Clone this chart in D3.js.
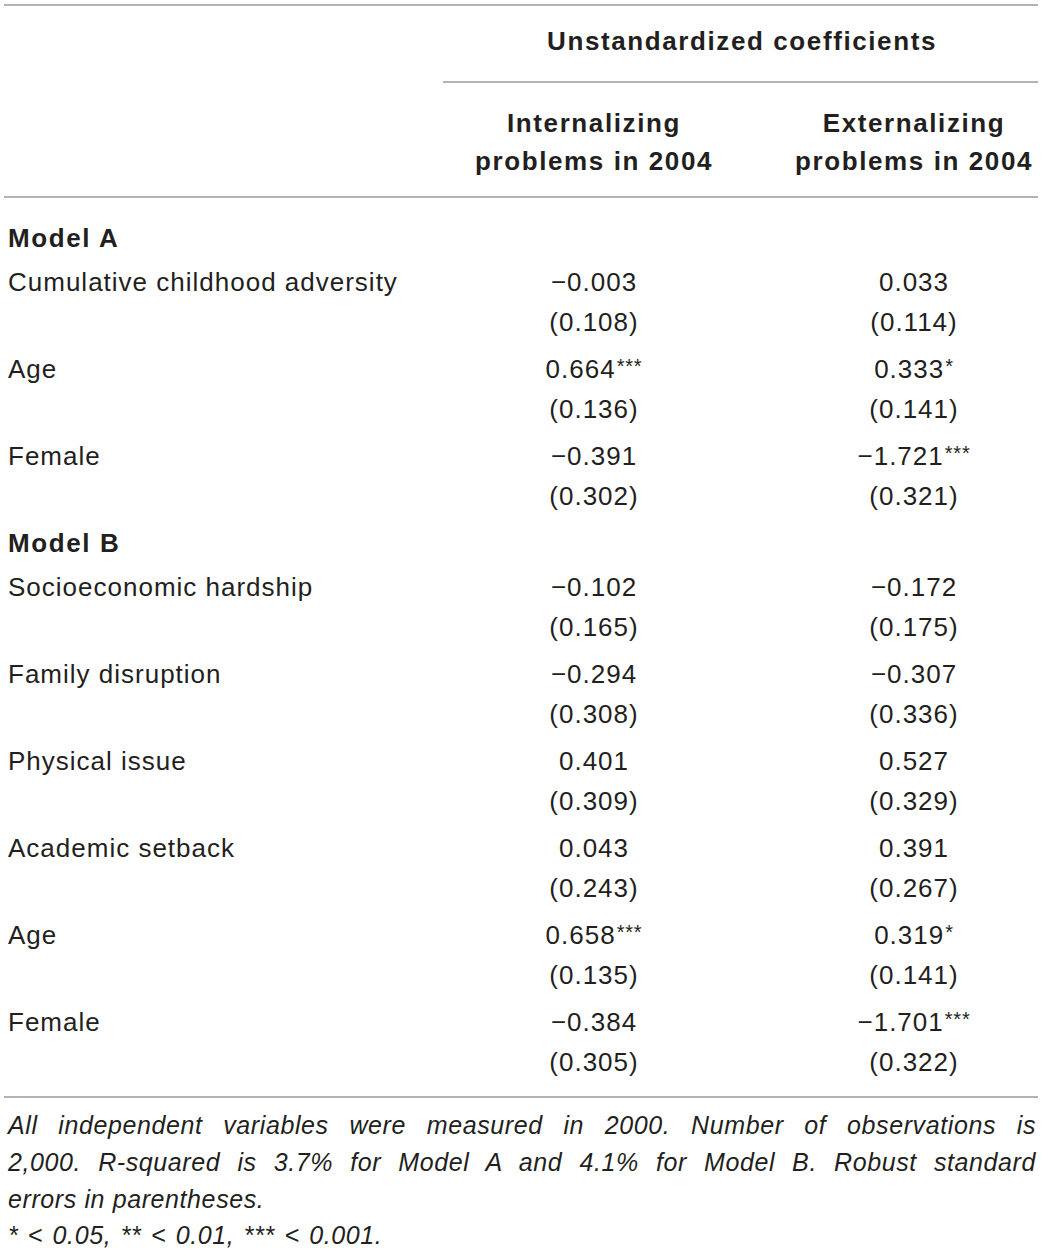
<!DOCTYPE html>
<html>
<head>
<meta charset="utf-8">
<script src="https://cdn.jsdelivr.net/npm/d3@7"></script>
<style>
  body { margin: 0; background: #fff; }
  svg { display: block; }
</style>
</head>
<body>
<div id="chart"></div>
<script>
// table content
const groups= ['Model A', 'Model B'];
const rowLabels= [
  'Cumulative childhood adversity', 'Age', 'Female',
  'Socioeconomic hardship', 'Family disruption', 'Physical issue', 'Academic setback', 'Age', 'Female'
];
const rowGroup= [0, 0, 0, 1, 1, 1, 1, 1, 1];
const intCoef= ['\u22120.003', '0.664', '\u22120.391', '\u22120.102', '\u22120.294', '0.401', '0.043', '0.658', '\u22120.384'];
const intSig= ['', '***', '', '', '', '', '', '***', ''];
const intSE= ['0.108', '0.136', '0.302', '0.165', '0.308', '0.309', '0.243', '0.135', '0.305'];
const extCoef= ['0.033', '0.333', '\u22121.721', '\u22120.172', '\u22120.307', '0.527', '0.391', '0.319', '\u22121.701'];
const extSig= ['', '*', '***', '', '', '', '', '*', '***'];
const extSE= ['0.114', '0.141', '0.321', '0.175', '0.336', '0.329', '0.267', '0.141', '0.322'];
const spanHeader= 'Unstandardized coefficients';
const colHeaders= [['Internalizing', 'problems in 2004'], ['Externalizing', 'problems in 2004']];
const noteLines= [
  'All independent variables were measured in 2000. Number of observations is',
  '2,000. R-squared is 3.7% for Model A and 4.1% for Model B. Robust standard',
  'errors in parentheses.',
  '* < 0.05, ** < 0.01, *** < 0.001.'
];

const W= 1043, H= 1256;
const FS= 26;
const LS= 1, LS_BOLD= 1.6;
const INK= '#231f20', RULE= '#9a9a9a';
const FONT= '"Liberation Sans", Arial, Helvetica, sans-serif';

const svg= d3.select('#chart').append('svg')
  .attr('width', W).attr('height', H)
  .attr('font-family', FONT).attr('fill', INK);

// layout: each slot is half a variable row
const slots= [];
let s= 0;
groups.forEach((g, gi) => {
  slots.push({ type: 'group', text: g, slot: s });
  s+= 1;
  rowLabels.forEach((lab, i) => {
    if (rowGroup[i]!==gi) return;
    slots.push({ type: 'row', i, slot: s });
    s+= 2;
  });
});
const lastSlot= d3.max(slots, d => d.slot);
const y= d3.scaleLinear().domain([0, lastSlot]).range([238, 1022]);
const colX= d3.scaleOrdinal().domain(['int', 'ext']).range([594, 914]);
const SE_GAP= 40;

// rules
const rules= [
  { x1: 4, x2: 1038, y: 5 },
  { x1: 443, x2: 1038, y: 82 },
  { x1: 4, x2: 1038, y: 197 },
  { x1: 4, x2: 1038, y: 1097 }
];
svg.selectAll('line.rule').data(rules).join('line')
  .attr('class', 'rule')
  .attr('x1', d => d.x1).attr('x2', d => d.x2)
  .attr('y1', d => d.y).attr('y2', d => d.y)
  .attr('stroke', RULE).attr('stroke-width', 1.6);

function bold(sel) {
  return sel.attr('font-size', FS).attr('font-weight', 'bold').attr('letter-spacing', LS_BOLD);
}
function plain(sel) {
  return sel.attr('font-size', FS).attr('letter-spacing', LS);
}

// header
svg.append('text')
  .attr('x', 742).attr('y', 41).attr('dy', '0.35em')
  .attr('text-anchor', 'middle')
  .call(bold)
  .text(spanHeader);

['int', 'ext'].forEach((k, ci) => {
  colHeaders[ci].forEach((t, li) => {
    svg.append('text')
      .attr('x', colX(k)).attr('y', 123+li*38).attr('dy', '0.35em')
      .attr('text-anchor', 'middle')
      .call(bold)
      .text(t);
  });
});

// body
const gBody= svg.append('g');
slots.forEach(d => {
  if (d.type==='group') {
    gBody.append('text')
      .attr('x', 8).attr('y', y(d.slot)).attr('dy', '0.35em')
      .call(bold)
      .text(d.text);
    return;
  }
  const i= d.i;
  gBody.append('text')
    .attr('x', 8).attr('y', y(d.slot)).attr('dy', '0.35em')
    .call(plain)
    .text(rowLabels[i]);

  [['int', intCoef, intSig, intSE], ['ext', extCoef, extSig, extSE]].forEach(([k, coef, sig, se]) => {
    const t= gBody.append('text')
      .attr('x', colX(k)).attr('y', y(d.slot)).attr('dy', '0.35em')
      .attr('text-anchor', 'middle')
      .call(plain);
    t.append('tspan').text(coef[i]);
    if (sig[i]) {
      t.append('tspan')
        .attr('font-size', 20)
        .attr('letter-spacing', 0.8)
        .attr('dx', 1)
        .attr('baseline-shift', '5px')
        .text(sig[i]);
    }
    gBody.append('text')
      .attr('x', colX(k)).attr('y', y(d.slot)+SE_GAP).attr('dy', '0.35em')
      .attr('text-anchor', 'middle')
      .call(plain)
      .text(`(${se[i]})`);
  });
});

// footnote, first two lines justified
const noteY= [1125, 1162, 1199, 1235];
const NOTE_W= 1028;
noteLines.forEach((t, i) => {
  const txt= svg.append('text')
    .attr('x', 8).attr('y', noteY[i]).attr('dy', '0.35em')
    .attr('font-size', 25).attr('font-style', 'italic')
    .attr('letter-spacing', 0.6)
    .attr('word-spacing', i===3 ? 2 : 0)
    .text(t);
  if (i<2) {
    const len= txt.node().getComputedTextLength();
    const gaps= t.split(' ').length-1;
    txt.attr('word-spacing', Math.max(0, (NOTE_W-len)/gaps));
  }
});
</script>
</body>
</html>
